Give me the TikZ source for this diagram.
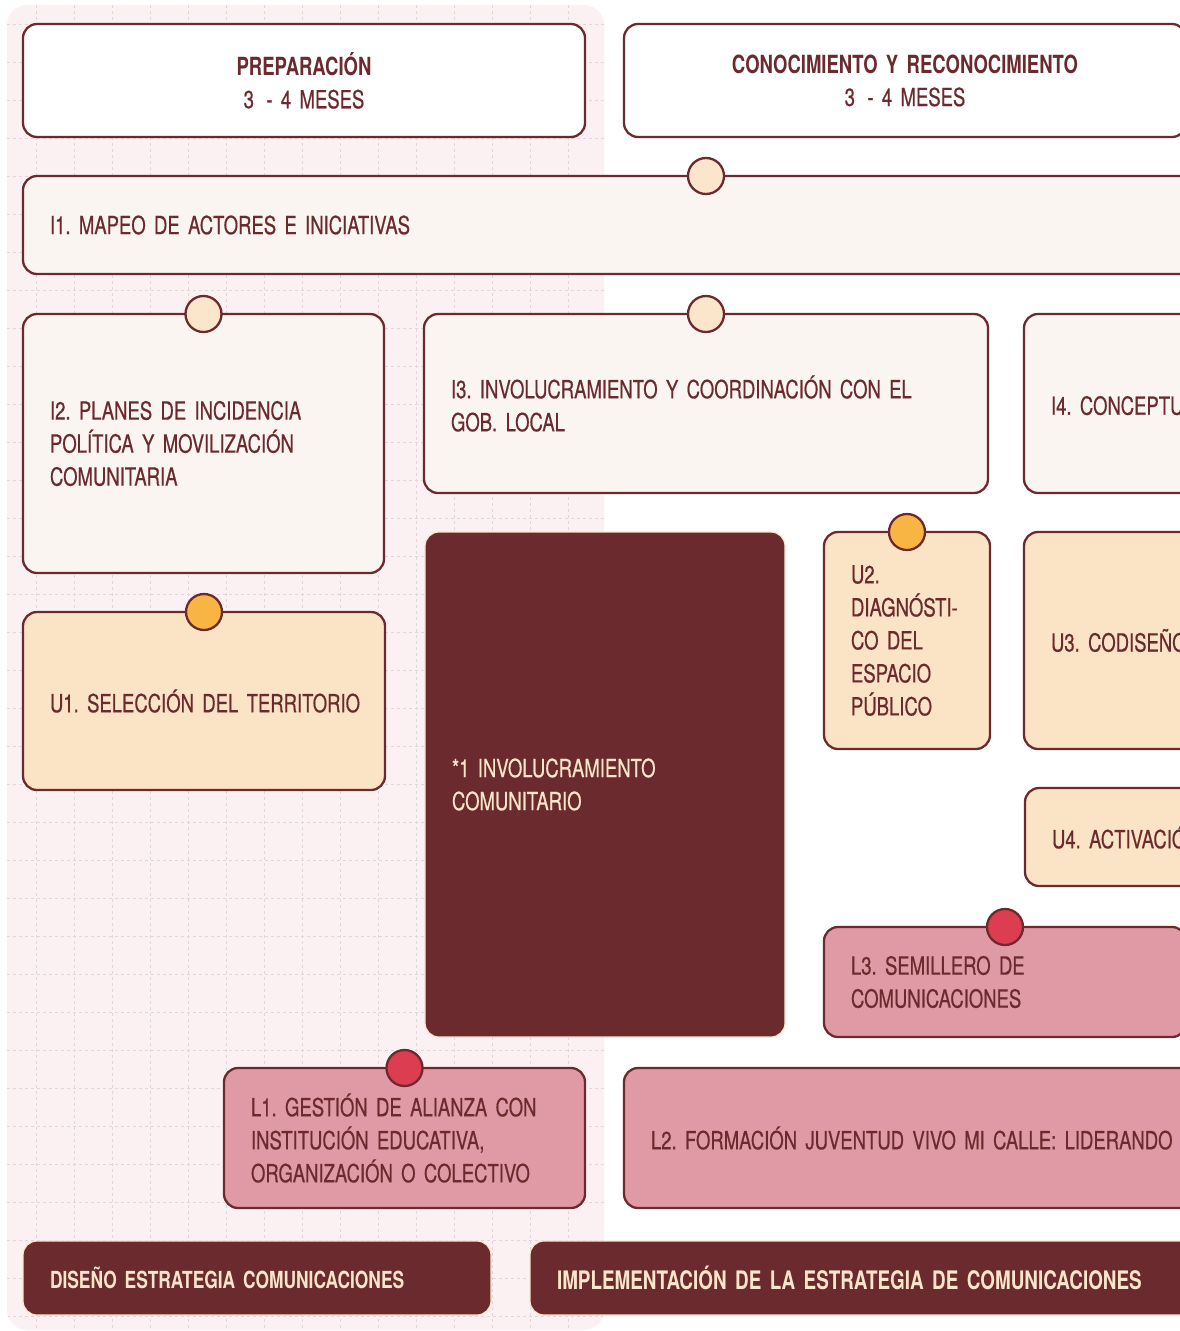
\documentclass[tikz,border=0pt]{standalone}
\usepackage{fontspec}
\setmainfont{TeX Gyre Heros}[FakeStretch=0.74, WordSpace=0.85, UprightFeatures={FakeBold=0.5}]
\usetikzlibrary{positioning}

\definecolor{maroon}{HTML}{6B2A2D}
\definecolor{creamfill}{HTML}{FAF5F0}
\definecolor{peach}{HTML}{FBE3C5}
\definecolor{peachdot}{HTML}{FCE6CB}
\definecolor{amber}{HTML}{F9B544}
\definecolor{rose}{HTML}{E09AA5}
\definecolor{crimson}{HTML}{DC3D50}
\definecolor{panelpink}{HTML}{FBF1F2}
\definecolor{gridpink}{HTML}{E4D6D6}

\hyphenpenalty=10000
\exhyphenpenalty=10000
\frenchspacing

\begin{document}
\begin{tikzpicture}[x=1pt, y=-1pt,
	card/.style={rectangle, rounded corners=14pt, draw=maroon, line width=2.3pt, outer sep=0pt,
		inner xsep=27pt, inner ysep=0pt, text=maroon, align=left, font=\fontsize{25}{33}\selectfont},
	phasecard/.style={card, fill=white, align=center, minimum height=113pt},
	itemcard/.style={card, fill=creamfill},
	unitcard/.style={card, fill=peach},
	leadcard/.style={card, fill=rose},
	darkcard/.style={card, fill=maroon, draw=peachdot, line width=1.2pt, text=peachdot},
	knob/.style={circle, draw=maroon, line width=2.3pt, fill=#1, minimum size=36pt, inner sep=0pt},
	gridline/.style={gridpink, line width=1pt, dash pattern=on 3pt off 3pt}]

	\fill[white] (0,0) rectangle (1179,1331);
	\useasboundingbox (0,0) rectangle (1179,1331);

	% preparation panel with its grid
	\fill[panelpink, rounded corners=20pt] (7,5) rectangle (604,1330);
	\begin{scope}
		\clip[rounded corners=20pt] (7,5) rectangle (604,1330);
		\foreach \x in {36,74,...,604} \draw[gridline] (\x,5) -- (\x,1331);
		\foreach \y in {24,62,...,1331} \draw[gridline] (7,\y) -- (604,\y);
	\end{scope}

	\node[phasecard, anchor=north west, text width=508pt] (prep) at (23,24)
		{{\bfseries PREPARACIÓN}\\3\enspace- 4~MESES};
	\node[phasecard, right=39pt of prep, text width=508pt] (cono)
		{{\bfseries CONOCIMIENTO~Y~RECONOCIMIENTO}\\3\enspace- 4~MESES};

	\node[itemcard, below=39pt of prep.south west, anchor=north west, text width=1346pt,
		minimum height=98pt] (i1) {I1. MAPEO DE ACTORES E INICIATIVAS};
	\node[itemcard, below=40pt of i1.south west, anchor=north west, text width=307pt,
		minimum height=259pt] (i2) {I2. PLANES DE INCIDENCIA\\POLÍTICA Y MOVILIZACIÓN\\COMUNITARIA};
	\node[itemcard, anchor=north west, text width=510pt, minimum height=179pt] (i3) at (424,314)
		{I3. INVOLUCRAMIENTO Y COORDINACIÓN CON EL\\GOB. LOCAL};
	\node[itemcard, right=36pt of i3, text width=400pt, minimum height=179pt] (i4)
		{I4. CONCEPTUALIZACIÓN};

	\node[unitcard, below=39pt of i2.south west, anchor=north west, text width=308pt,
		minimum height=178pt] (u1) {U1.~SELECCIÓN~DEL~TERRITORIO};
	\node[darkcard, anchor=north west, text width=306pt, minimum height=505pt] (inv) at (425,532)
		{*1 INVOLUCRAMIENTO\\COMUNITARIO};
	\node[unitcard, right=39pt of inv.north east, anchor=north west, text width=112pt,
		minimum height=217pt] (u2) {U2.\\DIAGNÓSTI-\\CO DEL\\ESPACIO\\PÚBLICO};
	\node[unitcard, right=34pt of u2, text width=400pt, minimum height=217pt] (u3)
		{U3. CODISEÑO};
	\node[unitcard, anchor=north west, text width=400pt, minimum height=98pt] (u4) at (1025,788)
		{U4. ACTIVACIÓN};

	\node[leadcard, anchor=north west, text width=308pt, minimum height=110pt] (l3) at (824,927)
		{L3. SEMILLERO DE\\COMUNICACIONES};
	\node[leadcard, anchor=north west, text width=307pt, minimum height=140pt] (l1) at (224,1068)
		{L1. GESTIÓN DE ALIANZA CON\\INSTITUCIÓN EDUCATIVA,\\ORGANIZACIÓN O COLECTIVO};
	\node[leadcard, right=39pt of l1, text width=700pt, minimum height=140pt] (l2)
		{L2.~FORMACIÓN~JUVENTUD~VIVO~MI~CALLE:~LIDERANDO};

	\node[darkcard, anchor=north west, text width=414pt, minimum height=74pt,
		font=\fontsize{23.5}{30}\selectfont\bfseries] (dis) at (23,1241)
		{DISEÑO~ESTRATEGIA~COMUNICACIONES};
	\node[darkcard, right=39pt of dis, text width=700pt, minimum height=74pt,
		font=\fontsize{25.5}{30}\selectfont\bfseries] (imp)
		{IMPLEMENTACIÓN~DE~LA~ESTRATEGIA~DE~COMUNICACIONES};

	\node[knob=peachdot] (k1) at (i3.north |- i1.north) {};
	\node[knob=peachdot] (k2) at (i2.north) {};
	\node[knob=peachdot] (k3) at (i3.north) {};
	\node[knob=amber] (k4) at (u1.north) {};
	\node[knob=amber] (k5) at (u2.north) {};
	\node[knob=crimson] (k6) at (l3.north) {};
	\node[knob=crimson] (k7) at (l1.north) {};
\end{tikzpicture}
\end{document}
